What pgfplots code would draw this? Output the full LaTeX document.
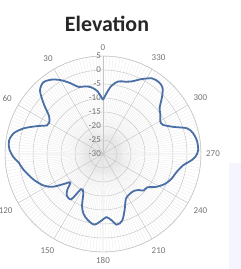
\documentclass[border=0pt]{standalone}
\usepackage{pgfplots}
\usepackage{pgfplotstable}
\pgfplotsset{compat=1.18}
\usepgfplotslibrary{polar}
\usepackage{fontspec}
\setmainfont{Carlito}
\definecolor{curve}{HTML}{4A6FA5}
% angle (deg, counter-clockwise from top) and gain (dB)
\pgfplotstableread{
a v
0 -10.7
5 -7.5
10 -5.8
15 -5.0
20 -4.5
25 -2.0
30 0.5
35 2.4
40 3.3
45 1.8
50 -2.5
55 -6.5
60 -7.8
63 -7.5
67 -4.5
72 -0.3
77 2.8
82 3.9
87 3.5
92 2.0
96 0.2
101 -1.0
110 -3.5
118 -6
123 -8.5
127 -12
131 -14.5
135 -12
139 -10.3
145 -10.3
148 -15.2
153 -14.5
158 -10
162 -7.5
167 -5.8
173 -4.6
179 -6.3
183 -7.4
187 -6.3
191 -4.3
196 -5.2
201 -8.5
207 -12
213 -12.8
220 -12.8
225 -11.8
228 -10.5
233 -10.2
238 -7.8
244 -5.5
250 -4
256 -3
262 -1.1
265 1.0
268 2.9
272 4.0
278 3.9
283 3.0
287 1.4
291 -3.0
296 -6.2
300 -6.4
305 -5.0
309 -4.0
314 -0.7
318 1.8
322 2.5
327 2.2
333 0
338 -2.0
343 -3.0
348 -3.5
353 -5.5
357 -8.5
360 -10.7
}\elev
\begin{document}
\begin{tikzpicture}[x=1bp,y=1bp]
\path[use as bounding box] (0,0) rectangle (241,269);
\fill[blue!4] (229,0) rectangle (241,106);
\node[font=\bfseries\fontsize{22}{24}\selectfont, text=black!85] at (107,245) {Elevation};
\begin{polaraxis}[
  at={(103bp,115bp)}, anchor=center,
  width=196bp, height=196bp, scale only axis,
  xmin=90, xmax=450, ymin=0, ymax=35,
  xtick={90,120,...,420},
  xticklabels={0,30,60,,120,150,180,210,240,270,300,330},
  minor xtick={92,94,...,448},
  ytick={0,5,...,35},
  yticklabels={-30,-25,-20,-15,-10,-5,0,5},
  grid=both,
  major grid style={gray!45, line width=0.45pt},
  minor grid style={gray!18, line width=0.3pt},
  axis line style={gray!45},
  tick style={draw=none},
  xticklabel style={font=\fontsize{9}{10}\selectfont, text=black!55, inner sep=5bp},
  yticklabel style={font=\fontsize{9}{10}\selectfont, text=black!55, anchor=east, inner sep=2bp},
  /pgf/number format/assume math mode=true,
]
\addplot[curve, line width=1.8bp, smooth] table[x expr=\thisrow{a}+90, y expr=\thisrow{v}+30] {\elev};
\end{polaraxis}
\end{tikzpicture}
\end{document}
